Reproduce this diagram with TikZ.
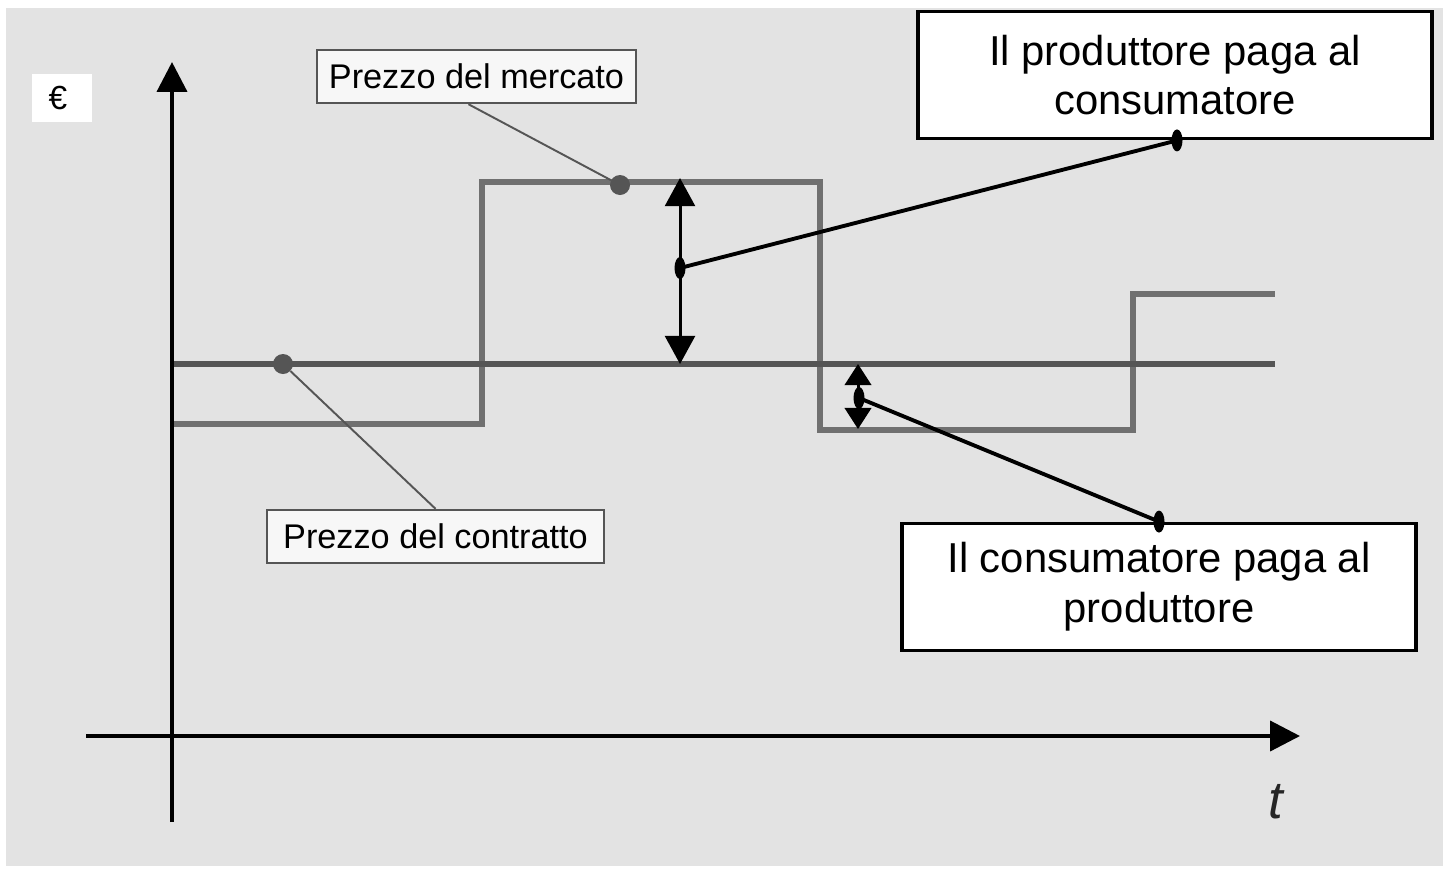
\documentclass[tikz,border=0pt]{standalone}
\usepackage{fontspec}
\setmainfont{Liberation Sans}
\usetikzlibrary{arrows.meta,shapes.geometric}
\definecolor{bggray}{HTML}{E3E3E3}
\definecolor{mkt}{HTML}{707070}
\definecolor{ctr}{HTML}{555555}
\begin{document}
\begin{tikzpicture}[x=0.02cm,y=-0.02cm,
  bigbox/.style={draw=black,line width=2.2pt,fill=white,align=center,minimum width=10.28cm,minimum height=2.54cm,inner sep=0pt,font=\fontsize{23.8}{28.4}\selectfont},
  smallbox/.style={draw=ctr,line width=1.4pt,fill=white!94!gray,inner sep=0pt,minimum height=1.06cm,font=\fontsize{19.5}{22}\selectfont},
  blackdot/.style={ellipse,fill=black,inner sep=0pt,minimum width=0.22cm,minimum height=0.44cm},
  graydot/.style={circle,fill=ctr,inner sep=0pt,minimum size=0.4cm},
  axisline/.style={line width=2.3pt,-{Triangle[width=17pt,length=17pt]}},
  dbl/.style={line width=1.7pt,{Triangle[width=17pt,length=16pt]}-{Triangle[width=17pt,length=16pt]}},
  dblsmall/.style={line width=1.7pt,{Triangle[width=15pt,length=12pt]}-{Triangle[width=15pt,length=12pt]}},
  leader/.style={draw=ctr,line width=1.1pt},
  conn/.style={draw=black,line width=2.2pt},
  mktline/.style={draw=mkt,line width=3.2pt},
  ctrline/.style={draw=ctr,line width=3.4pt}]
\useasboundingbox (0,0) rectangle (1443,883);
\fill[white] (0,0) rectangle (1443,883);
\fill[bggray] (6,8) rectangle (1443,866);
% price lines
\draw[mktline] (172,424) -- (482,424) -- (482,182) -- (820,182) -- (820,430) -- (1133,430) -- (1133,294) -- (1275,294);
\draw[ctrline] (172,364) -- (1275,364);
% axes
\coordinate (ybot) at (172,822);
\coordinate (ytop) at (172,62);
\coordinate (xleft) at (86,736);
\coordinate (xright) at (1300,736);
\draw[axisline] (ybot) -- (ytop);
\draw[axisline] (xleft) -- (xright);
% euro label
\fill[white] (32,74) rectangle (92,122);
\node (euro) at (58,98) {\fontsize{19}{19}\selectfont €};
% t label
\node[text=black!85] (tlab) at (1276,802) {\fontsize{30}{30}\selectfont\itshape t};
% labels with leaders
\node[smallbox,minimum width=6.38cm] (mercato) at (476.5,76.5) {Prezzo del mercato};
\node[smallbox,minimum width=6.74cm] (contratto) at (435.5,536.5) {Prezzo del contratto};
\node[graydot] (dm) at (620,185) {};
\node[graydot] (dc) at (283,364) {};
\draw[leader] ([xshift=-8*0.02cm]mercato.south) -- (dm);
\draw[leader] (contratto.north) -- (dc);
% double arrows
\coordinate (a1top) at (680,178);
\coordinate (a1bot) at (680,364);
\draw[dbl] (a1bot) -- (a1top);
\coordinate (a2top) at (858,364);
\coordinate (a2bot) at (858,429);
\draw[dblsmall] (a2bot) -- (a2top);
% boxes
\node[bigbox] (box1) at (1175,75) {Il produttore paga al\\consumatore};
\node[bigbox] (box2) at (1159,587) {Il consumatore paga al\\produttore};
\node[blackdot] (m1) at (680,268) {};
\node[blackdot] (b1) at (box1.south -| 1177,0) {};
\node[blackdot] (m2) at (859,398) {};
\node[blackdot] (b2) at (box2.north -| 1159,0) {};
\draw[conn] (m1.center) -- (b1.center);
\draw[conn] (m2.center) -- (b2.center);
\end{tikzpicture}
\end{document}
